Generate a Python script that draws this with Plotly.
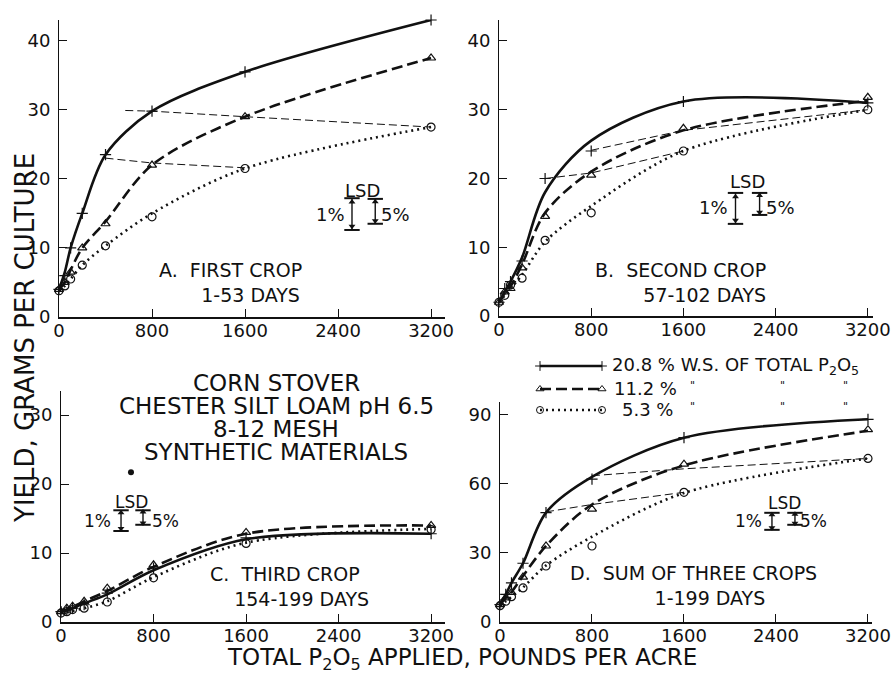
import plotly.graph_objects as go

# ---------------- data ----------------
rates = [0, 50, 100, 200, 400, 800, 1600, 3200]

# observed points (markers)
a_208 = [4.0, 6.0, 10.0, 15.0, 23.5, 29.8, 35.5, 43.0]
a_112 = [4.0, 5.0, 6.5, 10.0, 13.5, 22.0, 29.0, 37.5]
a_53 = [3.8, 4.5, 5.5, 7.5, 10.3, 14.5, 21.5, 27.5]

b_208 = [2.0, 4.0, 5.0, 8.0, 20.0, 24.0, 31.2, 31.0]
b_112 = [2.0, 3.5, 4.0, 7.0, 14.5, 20.5, 27.3, 31.8]
b_53 = [2.0, 3.0, 4.5, 5.5, 11.0, 15.0, 24.0, 30.0]

c_208 = [1.5, 1.8, 2.0, 2.5, 4.2, 7.8, 12.2, 12.8]
c_112 = [1.5, 2.0, 2.3, 3.0, 4.9, 8.3, 13.0, 14.0]
c_53 = [1.3, 1.5, 1.8, 2.0, 2.9, 6.4, 11.4, 13.4]

d_208 = [7.5, 12.0, 17.0, 25.5, 47.5, 62.0, 80.0, 88.0]
d_112 = [7.5, 10.5, 12.8, 19.5, 33.0, 49.0, 68.5, 83.5]
d_53 = [7.1, 9.0, 11.0, 14.8, 24.3, 33.0, 56.3, 71.0]

# fitted curves, at the same rates
a_208_fit = [4.0, 6.5, 10.0, 15.0, 23.5, 29.8, 35.5, 43.0]
a_112_fit = [4.0, 5.0, 6.8, 10.0, 13.8, 22.0, 29.0, 37.5]
a_53_fit = [3.8, 4.5, 5.5, 7.5, 10.3, 15.0, 21.5, 27.5]

b_208_fit = [2.0, 3.5, 5.0, 8.5, 18.0, 25.5, 31.2, 31.0]
b_112_fit = [2.0, 3.3, 4.3, 7.5, 15.0, 21.0, 27.0, 31.3]
b_53_fit = [2.0, 3.0, 4.0, 6.0, 10.8, 16.0, 24.0, 30.0]

c_208_fit = [1.5, 1.7, 2.0, 2.7, 4.0, 7.5, 12.0, 12.8]
c_112_fit = [1.5, 1.8, 2.2, 3.0, 4.5, 8.0, 12.8, 14.0]
c_53_fit = [1.3, 1.4, 1.6, 2.0, 3.0, 6.5, 11.5, 13.5]

d_208_fit = [7.5, 12.0, 17.0, 25.5, 47.5, 63.0, 80.0, 88.0]
d_112_fit = [7.5, 10.5, 13.0, 20.0, 33.0, 51.0, 68.0, 83.0]
d_53_fit = [7.0, 9.0, 11.0, 15.0, 24.5, 37.0, 56.0, 71.0]

# equivalence (dashed thin) lines: (x list, y list)
a_eq = [([400, 800, 1600], [23.0, 22.3, 21.6]), ([570, 800, 1600, 3200], [29.9, 29.8, 29.0, 27.5])]
b_eq = [([400, 800, 1600], [20.0, 20.8, 24.0]), ([800, 1600, 3200], [24.1, 27.0, 30.0])]
d_eq = [([400, 800, 1600], [47.8, 51.0, 56.3]), ([800, 1600, 3200], [63.5, 66.5, 71.0])]

# LSD bars: (bottom, top) for 1% and 5%
a_lsd = {"1%": (12.6, 17.2), "5%": (13.5, 17.1)}
b_lsd = {"1%": (13.4, 17.9), "5%": (14.7, 17.9)}
c_lsd = {"1%": (13.2, 16.2), "5%": (14.1, 16.2)}
d_lsd = {"1%": (40.0, 47.4), "5%": (42.2, 47.4)}

stray_x = [605]
stray_y = [21.7]

x_ticks = [0, 800, 1600, 2400, 3200]
y_ticks_ab = [0, 10, 20, 30, 40]
y_ticks_c = [0, 10, 20, 30]
y_ticks_d = [0, 30, 60, 90]

W, H = 893, 673
FONT = "DejaVu Sans"
INK = "#111111"


def px(x):
    return x / W


def py(y):
    return 1 - y / H


fig = go.Figure()

styles = [
    ("20.8", dict(width=2.6, dash="solid"), "cross-thin-open"),
    ("11.2", dict(width=2.6, dash="11px,5px"), "triangle-up-open"),
    ("5.3", dict(width=2.6, dash="2px,4px"), "circle-open"),
]

panels = [
    ("x", "y", [a_208, a_112, a_53], [a_208_fit, a_112_fit, a_53_fit], a_eq, a_lsd, (2520, 2720)),
    ("x2", "y2", [b_208, b_112, b_53], [b_208_fit, b_112_fit, b_53_fit], b_eq, b_lsd, (2052, 2261)),
    ("x3", "y3", [c_208, c_112, c_53], [c_208_fit, c_112_fit, c_53_fit], [], c_lsd, (519, 709)),
    ("x4", "y4", [d_208, d_112, d_53], [d_208_fit, d_112_fit, d_53_fit], d_eq, d_lsd, (2365, 2565)),
]

for xa, ya, series, fits, eqs, lsd, lsd_x in panels:
    for ex, ey in eqs:
        fig.add_trace(go.Scatter(x=ex, y=ey, xaxis=xa, yaxis=ya, mode="lines",
                                 line=dict(color=INK, width=1, dash="8px,4px"),
                                 showlegend=False, hoverinfo="skip"))
    for fit, (name, ln, sym) in zip(fits, styles):
        fig.add_trace(go.Scatter(
            x=rates, y=fit, xaxis=xa, yaxis=ya, mode="lines",
            line=dict(color=INK, shape="spline", smoothing=0.9, **ln),
            cliponaxis=False, showlegend=False, hoverinfo="skip"))
    for vals, (name, ln, sym) in zip(series, styles):
        fig.add_trace(go.Scatter(
            x=rates, y=vals, xaxis=xa, yaxis=ya, mode="markers",
            marker=dict(symbol=sym, size=8, color=INK, line=dict(width=1.2, color=INK)),
            cliponaxis=False, showlegend=False, name=name))
    for (key, (lo, hi)), xx in zip(lsd.items(), lsd_x):
        fig.add_trace(go.Scatter(
            x=[xx, xx], y=[lo, hi], xaxis=xa, yaxis=ya, mode="lines+markers",
            line=dict(color=INK, width=1.4),
            marker=dict(symbol="line-ew-open", size=11, line=dict(width=2, color=INK)),
            showlegend=False, hoverinfo="skip"))
        span = hi - lo
        fig.add_trace(go.Scatter(
            x=[xx, xx], y=[hi - span * 0.12, lo + span * 0.12], xaxis=xa, yaxis=ya, mode="markers",
            marker=dict(symbol=["triangle-up", "triangle-down"], size=6, color=INK),
            showlegend=False, hoverinfo="skip"))

fig.add_trace(go.Scatter(x=stray_x, y=stray_y, xaxis="x3", yaxis="y3", mode="markers",
                         marker=dict(size=6, color=INK), showlegend=False, hoverinfo="skip"))

# legend samples on a hidden pixel-space axis
leg_rows = [366, 389, 410]
for (name, ln, sym), ry in zip(styles, leg_rows):
    fig.add_trace(go.Scatter(
        x=[540, 602], y=[ry, ry], xaxis="x5", yaxis="y5", mode="lines+markers",
        line=dict(color=INK, **ln),
        marker=dict(symbol=sym, size=7, color=INK, line=dict(width=1, color=INK)),
        cliponaxis=False, showlegend=False, hoverinfo="skip"))

axis_common = dict(showline=True, linecolor=INK, showgrid=False, zeroline=False,
                   ticks="inside", ticklen=8, tickwidth=1, tickcolor=INK, automargin=False,
                   tickfont=dict(family=FONT, size=18, color=INK), fixedrange=True)


def xaxis(domain, rng, anchor):
    return dict(domain=domain, range=rng, anchor=anchor, tickvals=x_ticks,
                linewidth=1.6, ticklabelstandoff=-3, **axis_common)


def yaxis(domain, rng, anchor, ticks):
    return dict(domain=domain, range=rng, anchor=anchor, tickvals=ticks,
                linewidth=1, ticklabelstandoff=4, **axis_common)


layout = dict(
    width=W, height=H, margin=dict(l=0, r=0, t=0, b=0, autoexpand=False),
    paper_bgcolor="white", plot_bgcolor="white", showlegend=False,
    font=dict(family=FONT, color=INK),
    xaxis=xaxis([px(59), px(445)], [0, 3320], "y"),
    yaxis=yaxis([py(317), py(20)], [0, 43.0], "x", y_ticks_ab),
    xaxis2=xaxis([px(499), px(873)], [0, 3245], "y2"),
    yaxis2=yaxis([py(316), py(20)], [0, 43.05], "x2", y_ticks_ab),
    xaxis3=xaxis([px(61), px(445)], [0, 3320], "y3"),
    yaxis3=yaxis([py(622), py(391)], [0, 33.5], "x3", y_ticks_c),
    xaxis4=xaxis([px(500), px(872)], [0, 3235], "y4"),
    yaxis4=yaxis([py(622), py(402)], [0, 95.5], "x4", y_ticks_d),
    xaxis5=dict(domain=[px(540), px(602)], range=[540, 602], visible=False, anchor="y5", fixedrange=True),
    yaxis5=dict(domain=[py(420), py(356)], range=[420, 356], visible=False, anchor="x5", fixedrange=True),
)
fig.update_layout(**layout)

ann = []


def text(x, y, s, size=18, anchor="center", angle=0, align="center", height=None):
    a = dict(x=px(x), y=py(y), xref="paper", yref="paper", text=s, showarrow=False,
             xanchor=anchor, yanchor="middle", textangle=angle, align=align,
             font=dict(family=FONT, size=size, color=INK))
    if height is not None:
        a["height"] = height
    ann.append(a)


NB = "\u00a0"
# panel captions (two lines each, second line indented)
text(157, 282.5, "A.  FIRST CROP<br>" + NB * 7 + "1-53 DAYS", 19, "left", align="left")
text(593, 282.5, "B.  SECOND CROP<br>" + NB * 8 + "57-102 DAYS", 19, "left", align="left")
text(208, 586, "C.  THIRD CROP<br>" + NB * 4 + "154-199 DAYS", 19, "left", align="left")
text(568, 585.5, "D.  SUM OF THREE CROPS<br>" + NB * 14 + "1-199 DAYS", 19, "left", align="left")

# LSD labels
for (lx, ly), (ax_, ay_), (bx, by), sz in [
    ((362, 190), (330, 215), (395, 215), 18),
    ((747, 182), (713, 207), (780, 207), 18),
    ((131, 502), (97, 521), (165, 521), 17),
    ((784, 503), (748, 521), (813, 521), 17),
]:
    text(lx, ly, "LSD", sz)
    text(ax_, ay_, "1%", sz)
    text(bx, by, "5%", sz)

# centre block
text(276, 383, "CORN STOVER", 23, height=22)
text(276, 406, "CHESTER SILT LOAM pH 6.5", 23, height=22)
text(276, 429, "8-12 MESH", 23, height=22)
text(276, 452, "SYNTHETIC MATERIALS", 23, height=22)

# legend text
text(610, 366, "20.8 % W.S. OF TOTAL P<sub>2</sub>O<sub>5</sub>", 18, "left")
text(612, 389, "11.2 %", 18, "left")
text(620, 410, "5.3 %", 18, "left")
for ry in (389, 410):
    for dx in (692, 782, 845):
        text(dx, ry - 4, "\"", 11)

# axis titles
text(25, 338, "YIELD, GRAMS PER CULTURE", 26, "center", -90)
text(462, 659, "TOTAL P<sub>2</sub>O<sub>5</sub> APPLIED, POUNDS PER ACRE", 23)

fig.update_layout(annotations=ann)
fig.write_html("out.html", config={"displayModeBar": False, "staticPlot": True},
               post_script="document.body.style.margin='0px';")
